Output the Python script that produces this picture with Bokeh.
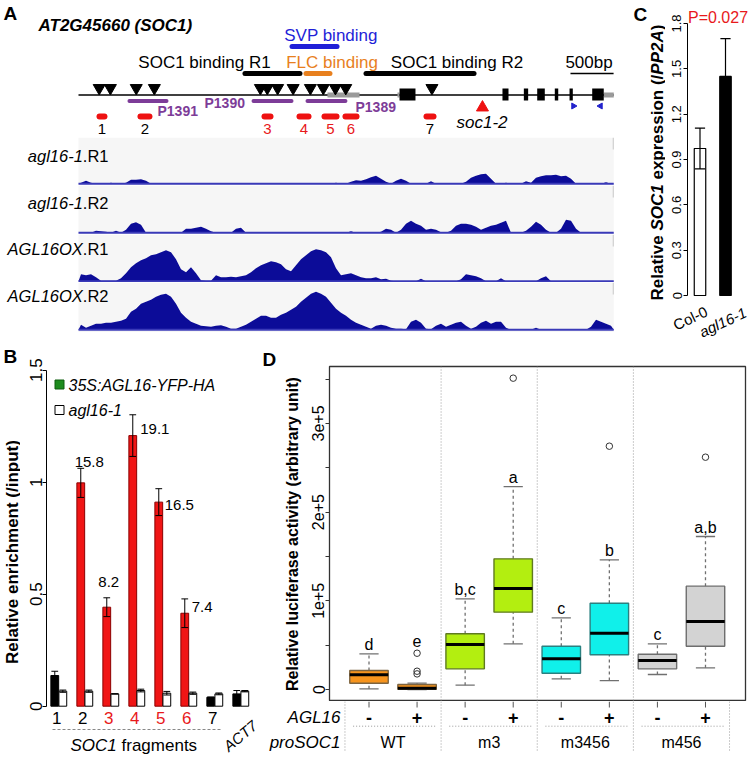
import math
import numpy as np
from bokeh.plotting import figure
from bokeh.layouts import column, row
from bokeh.models import Range1d, FixedTicker, CustomJSTickFormatter, Span
from bokeh.core.properties import value
from bokeh.embed import file_html
from bokeh.resources import INLINE

FONT = "Liberation Sans"

# ============================ DATA ============================
# ---- Panel A: SOC1 locus (positions in bp from the left end of the window)
CARG_POS = [240, 370, 670, 880, 2110, 2190, 2310, 2490, 2690, 2840, 2980, 3100, 4100]
GENE_END = 6209
EXON_START = [3724, 4918, 5166, 5321, 5525, 5696, 5959]
EXON_END = [3909, 4988, 5216, 5409, 5565, 5734, 6093]
UTR_START = [2888, 3700, 6093]
UTR_END = [3260, 3724, 6209]
PROMOTER_NAMES = ["P1391", "P1390", "P1389"]
PROMOTER_START = [568, 2007, 2633]
PROMOTER_END = [1044, 2494, 3120]
PRIMER_NAMES = ["1", "2", "3", "4", "5", "6", "7"]
PRIMER_START = [209, 684, 2123, 2529, 2819, 3062, 4002]
PRIMER_END = [336, 858, 2262, 2703, 3028, 3260, 4153]
PRIMER_RED = [False, False, True, True, True, True, False]
BINDING_NAMES = ["SVP binding", "SOC1 binding R1", "FLC binding", "SOC1 binding R2"]
BINDING_START = [2448, 1902, 2610, 3306]
BINDING_END = [3028, 2598, 2946, 4617]
BINDING_COLORS = ["#1f1fd8", "black", "#e8801e", "black"]
SOC1_2_POS = 4686
QPCR_PRIMER_POS = [5742, 6055]
SCALE_BAR = [5707, 6207]
TRACK_SAMPLE = ["agl16-1", "agl16-1", "AGL16OX", "AGL16OX"]
TRACK_REP = [".R1", ".R2", ".R1", ".R2"]
BIN_BP = 58
COV_AGL16_1_R1 = [1, 3, 1, 0, 0, 0, 1, 0, 0, 1,
                  4, 4, 4.5, 3, 0, 0, 0, 0, 0, 0,
                  0, 0, 0, 0, 0, 0, 0, 0, 0, 0,
                  0, 0, 0, 0, 0, 0, 0, 0, 0, 0,
                  0, 0, 0, 0, 0, 0, 0, 0, 0, 0,
                  0, 1, 0, 0, 2, 3.5, 3, 4.5, 6.5, 8,
                  5, 2, 0, 3, 5, 3, 0, 0, 0, 0,
                  2.5, 0, 0, 0, 0, 0, 0, 2, 6, 8,
                  9.5, 10, 5, 0, 0, 1, 0, 0, 0, 2.5,
                  1, 6, 7.5, 8.5, 8.5, 9, 7.5, 8, 5, 0,
                  0, 0, 0, 0, 0, 1.5, 0]
COV_AGL16_1_R2 = [0, 0, 0, 2, 1.5, 1, 0, 2, 0, 3,
                  9, 10.5, 8, 0, 0, 0, 0, 0, 0, 0,
                  0, 4, 4, 5, 6, 4, 1.5, 0, 0, 0,
                  0, 4, 5, 0, 0, 0, 0, 0, 0, 0,
                  0, 0, 0, 0, 0, 0, 0, 0, 0, 0,
                  0, 0, 0, 0, 1.5, 0, 0, 0, 0, 0,
                  1, 4, 3, 0, 3, 9, 12, 9, 7, 3,
                  4, 3, 0.5, 0, 2, 7, 9, 9, 8, 6,
                  3, 5, 7, 8, 10, 12, 0, 0, 0, 2,
                  6, 11, 8, 3, 0, 0, 4, 13, 12, 4,
                  0, 0, 0, 0, 0, 0, 0]
COV_AGL16OX_R1 = [7, 6, 7, 4, 0.5, 0.5, 0.5, 0.5, 3, 8,
                  14, 18, 21, 23, 26, 27, 29, 31, 29, 22,
                  12, 9, 14, 8, 1, 0.5, 0.5, 6, 4, 4,
                  4.5, 4, 5, 6, 9, 13, 16, 18, 20, 19,
                  17, 12, 10, 16, 22, 26, 30, 32, 31, 29,
                  24, 13, 6, 7, 8, 6, 4, 3, 3, 4,
                  2, 2.5, 0.5, 0, 0, 0, 0, 0, 2.5, 0,
                  0, 0, 0, 0, 0, 0, 2, 7, 6, 5,
                  3, 0, 0, 0, 3, 0, 0, 0, 0, 0,
                  0, 0, 3, 5, 0, 0, 0, 0, 0, 0,
                  0, 0, 0, 0, 0, 0, 0]
COV_AGL16OX_R2 = [5, 2, 4, 6, 6, 7, 7, 8, 9, 11,
                  18, 21, 26, 28, 30, 33, 35, 36, 33, 26,
                  17, 12, 8, 6, 4, 3.5, 3, 4, 4.5, 3,
                  1, 1, 3, 5, 8, 11, 14, 14, 12, 12,
                  15, 17, 20, 23, 28, 32, 36, 38, 36, 33,
                  27, 21, 17, 14, 10, 7, 5, 3, 1, 4,
                  5, 4, 2, 1, 1, 0.5, 8, 10, 7, 1,
                  0.5, 4, 6, 3, 5, 7, 8, 4, 1, 3,
                  7, 9, 6, 8, 8, 2, 0, 0, 0, 0,
                  0, 2, 0, 0, 0, 0, 0, 0, 0, 0,
                  0, 0, 3, 10, 8, 6, 4]

# ---- Panel B: ChIP-qPCR
B_FRAGMENTS = ["1", "2", "3", "4", "5", "6", "7", "ACT7"]
B_YFP = [0.137, 0.997, 0.442, 1.208, 0.911, 0.415, 0.040, 0.055]
B_YFP_SE = [0.019, 0.065, 0.042, 0.093, 0.060, 0.064, 0.0, 0.015]
B_AGL16_1 = [0.067, 0.067, 0.055, 0.070, 0.058, 0.058, 0.055, 0.067]
B_AGL16_1_SE = [0.005, 0.005, 0.0, 0.006, 0.008, 0.005, 0.004, 0.003]
B_BAR_RED = [False, True, True, True, True, True, False, False]
B_LABEL_RED = [False, False, True, True, True, True, False, False]
B_FOLD = ["", "15.8", "8.2", "19.1", "16.5", "7.4", "", ""]
B_YTICKS = [0, 0.5, 1, 1.5]

# ---- Panel C: qRT-PCR
C_GENOTYPES = ["Col-0", "agl16-1"]
C_EXPR = [0.973, 1.45]
C_SE = [0.135, 0.25]
C_PVALUE = "P=0.027"
C_YTICKS = [0, 0.3, 0.6, 0.9, 1.2, 1.5, 1.8]

# ---- Panel D: luciferase boxplots
D_AGL16 = ["-", "+", "-", "+", "-", "+", "-", "+"]
D_PROMOTERS = ["WT", "m3", "m3456", "m456"]
D_WHISK_LO = [800, 0, 4900, 51500, 12000, 10100, 16900, 24400]
D_Q1 = [7100, 200, 23300, 87200, 18400, 39100, 23300, 48800]
D_MEDIAN = [16500, 1500, 50700, 113900, 34600, 63500, 32700, 76700]
D_Q3 = [21400, 5600, 62800, 147300, 48800, 97300, 39800, 116500]
D_WHISK_HI = [40200, 7100, 102200, 228800, 80800, 146200, 51500, 172500]
D_OUTLIERS = [[], [40900, 20600, 17600], [], [351000], [], [274300], [], [261900]]
D_LETTERS = ["d", "e", "b,c", "a", "c", "b", "c", "a,b"]
D_YTICKS = [0, 50000, 100000, 150000, 200000, 250000, 300000, 350000]
D_FILL = ["#f7941d", "#f7941d", "#b3ee10", "#b3ee10", "#10f0ea", "#10f0ea", "#d3d3d3", "#d3d3d3"]
D_EDGE = ["#7d6440", "#7d6440", "#5f7a20", "#5f7a20", "#2a8080", "#2a8080", "#6e6e6e", "#6e6e6e"]


# ============================ HELPERS ============================
def base_fig(w, h, xr, yr, **kw):
    opts = dict(width=w, height=h, x_range=xr, y_range=yr, output_backend="svg",
                toolbar_location=None, min_border=0,
                x_axis_location=None, y_axis_location=None)
    opts.update(kw)
    p = figure(**opts)
    p.xgrid.visible = False
    p.ygrid.visible = False
    p.outline_line_color = None
    try:
        p.frame_align = False
    except Exception:
        pass
    return p


def txt(p, x, y, s, size="16px", style="normal", color="black", align="left",
        baseline="middle", angle=0.0, x_offset=0):
    if not isinstance(x, (list, tuple, np.ndarray)):
        x, y, s = [x], [y], [s]
    p.text(x=list(x), y=list(y), text=list(s), text_font=value(FONT), text_font_size=size,
           text_font_style=style, text_color=color, text_align=align,
           text_baseline=baseline, angle=angle, x_offset=x_offset)


def style_yaxis(ax, size, standoff, color="black"):
    ax.major_label_orientation = "vertical"
    ax.major_label_text_font = FONT
    ax.major_label_text_font_size = size
    ax.major_label_text_color = "black"
    ax.major_label_standoff = standoff
    ax.major_tick_out = 4
    ax.major_tick_in = 0
    ax.minor_tick_line_color = None
    ax.axis_line_color = color
    ax.major_tick_line_color = color


TOP_H = 340
BOT_H = 436

# ============================ PANEL A ============================
BPP = 11.6                      # bp per pixel of the locus drawing
A_W = 615


def bpx(rx):
    return (rx - 78.0) * BPP


xrA = Range1d(bpx(0), bpx(A_W))
pA = base_fig(A_W, 137, xrA, Range1d(137, 0))

txt(pA, bpx(3), 12.5, "A", size="19px", style="bold")
txt(pA, bpx(38), 25, "AT2G45660 (SOC1)", size="17px", style="bold italic")

bind_y = [46, 73, 73, 73]
ins = 2.5 * BPP
pA.segment(x0=[s + ins for s in BINDING_START], x1=[e - ins for e in BINDING_END],
           y0=bind_y, y1=bind_y, line_color=BINDING_COLORS, line_width=5, line_cap="round")
bind_lab_x = [bpx(330.5), bpx(204), bpx(331.5), bpx(456.5)]
bind_lab_y = [35, 62, 62, 62]
for nm, lx, ly, c in zip(BINDING_NAMES, bind_lab_x, bind_lab_y, BINDING_COLORS):
    txt(pA, lx, ly, nm, size="17px", color=c, align="center")

pA.segment(x0=[SCALE_BAR[0]], x1=[SCALE_BAR[1]], y0=[73], y1=[73], line_color="black", line_width=1.5)
txt(pA, (SCALE_BAR[0] + SCALE_BAR[1]) / 2 - 3 * BPP, 62,
    "%dbp" % (SCALE_BAR[1] - SCALE_BAR[0]), size="17px", align="center")

pA.segment(x0=[0], x1=[GENE_END], y0=[94.5], y1=[94.5], line_color="black", line_width=1.3)
pA.quad(left=UTR_START, right=UTR_END, bottom=[97] * len(UTR_START), top=[92] * len(UTR_START),
        fill_color="#9a9a9a", line_color=None)
pA.quad(left=EXON_START, right=EXON_END, bottom=[100] * len(EXON_START), top=[88] * len(EXON_START),
        fill_color="black", line_color=None)
pA.scatter(x=CARG_POS, y=[87.5] * len(CARG_POS), marker="inverted_triangle", size=12,
           fill_color="black", line_color="black")

ins = 2 * BPP
pA.segment(x0=[s + ins for s in PROMOTER_START], x1=[e - ins for e in PROMOTER_END],
           y0=[100.5] * 3, y1=[100.5] * 3, line_color="#7d3c98", line_width=4, line_cap="round")
for nm, lx, ly in zip(PROMOTER_NAMES, [bpx(157), bpx(204), bpx(355)], [110, 102, 106]):
    txt(pA, lx, ly, nm, size="14px", style="bold", color="#7d3c98")

ins = 3 * BPP
pA.segment(x0=[s + ins for s in PRIMER_START], x1=[e - ins for e in PRIMER_END],
           y0=[116] * 7, y1=[116] * 7, line_color="#ee1111", line_width=6, line_cap="round")
pA.text(x=[(s + e) / 2 for s, e in zip(PRIMER_START, PRIMER_END)], y=[128.5] * 7, text=PRIMER_NAMES,
        text_font=value(FONT), text_font_size="15px",
        text_color=["#e8191b" if r else "black" for r in PRIMER_RED],
        text_align="center", text_baseline="middle")

pA.scatter(x=[SOC1_2_POS], y=[107], marker="triangle", size=12, fill_color="#ee1111", line_color="#ee1111")
txt(pA, bpx(481.5), 121.5, "soc1-2", size="17px", style="italic", align="center")
pA.scatter(x=QPCR_PRIMER_POS, y=[105.5, 105.5], marker="triangle", size=6,
           angle=[-math.pi / 2, math.pi / 2], fill_color="#2222cc", line_color="#2222cc")

track_h = [48, 49, 48, 50]
track_base = [1.7, 1.7, 1.3, 2.7]
track_lab_top = [18, 17.7, 14.3, 13]
covs = [COV_AGL16_1_R1, COV_AGL16_1_R2, COV_AGL16OX_R1, COV_AGL16OX_R2]
tracks = []
REP_W = 1.556 * 16.5
for i in range(4):
    h, b = track_h[i], track_base[i]
    top = h - b
    p = base_fig(A_W, h, xrA, Range1d(-b, top))
    p.quad(left=[0], right=[GENE_END], bottom=[-b], top=[top], fill_color="#f6f6f6", line_color=None)
    cov = np.array(covs[i], dtype=float)
    xs = np.concatenate([[0], np.arange(len(cov)) * BIN_BP + BIN_BP / 2, [GENE_END]])
    ys = np.concatenate([[0], cov, [0]])
    p.varea(x=xs, y1=np.zeros_like(ys), y2=ys, fill_color="#0c0c98")
    p.segment(x0=[0], x1=[GENE_END], y0=[0], y1=[0], line_color="#3a3ab8", line_width=2)
    p.segment(x0=[GENE_END - 6], x1=[GENE_END - 6], y0=[top], y1=[top - 12], line_color="#c8c8c8", line_width=1)
    ly = top - track_lab_top[i]
    txt(p, bpx(108), ly, TRACK_REP[i], size="16.5px", align="right")
    txt(p, bpx(108), ly, TRACK_SAMPLE[i], size="16.5px", style="italic", align="right", x_offset=-REP_W)
    tracks.append(p)

# ============================ PANEL C ============================
C_L = 615            # left of panel C on the page
C_SPLIT = 665        # left of C chart figure (strip with titles to the left)
C_AXIS = 687
C_R = 750
C_MAIN_H = 300


def cx(rx):
    return 1 + (rx - 699.5) / 25.5


def cy(ry):
    return (295.0 - ry) / 151.1


stripC = base_fig(C_SPLIT - C_L, C_MAIN_H, Range1d(C_L, C_SPLIT), Range1d(C_MAIN_H, 0))
txt(stripC, 633, 13.5, "C", size="19px", style="bold")
pieces = [("Relative", "bold", 4.113), ("SOC1", "bold italic", 3.001), ("expression (/", "bold", 6.169),
          ("PP2A", "bold italic", 2.612), (")", "bold", 0.333)]
ystart = 300.0
for s, st, em in pieces:
    txt(stripC, 656.5, ystart, s, size="17px", style=st, align="left", angle=math.pi / 2)
    ystart -= em * 17

pC = base_fig(C_R - C_SPLIT, C_MAIN_H, Range1d(cx(C_AXIS), cx(C_R)), Range1d(cy(C_MAIN_H), cy(0)),
              y_axis_location="left", min_border_left=C_AXIS - C_SPLIT)
ya = pC.yaxis[0]
ya.bounds = (0, 1.8)
ya.ticker = FixedTicker(ticks=C_YTICKS)
ya.formatter = CustomJSTickFormatter(code="return tick == 0 ? '0' : tick.toFixed(1);")
style_yaxis(ya, "13px", 2)

cpos = [1, 2]
pC.vbar(x=cpos, width=0.45, bottom=0, top=C_EXPR, fill_color=["white", "black"], line_color="black", line_width=1.2)
lo = [v - e for v, e in zip(C_EXPR, C_SE)]
hi = [v + e for v, e in zip(C_EXPR, C_SE)]
pC.segment(x0=cpos, x1=cpos, y0=lo, y1=hi, line_color="black", line_width=1.2)
pC.segment(x0=[x - 0.2 for x in cpos], x1=[x + 0.2 for x in cpos], y0=hi, y1=hi, line_color="black", line_width=1.2)
pC.segment(x0=[x - 0.2 for x in cpos], x1=[x + 0.2 for x in cpos], y0=lo, y1=lo, line_color="black", line_width=1.2)
txt(pC, cx(687.5), cy(17), C_PVALUE, size="16px", color="#e8191b")

pCb = base_fig(C_R - C_L, TOP_H - C_MAIN_H, Range1d(cx(C_L), cx(C_R)), Range1d(TOP_H, C_MAIN_H))
ang = math.radians(25)
txt(pCb, cx(706), 310, C_GENOTYPES[0], size="15px", align="right", angle=ang)
txt(pCb, cx(745), 311, C_GENOTYPES[1], size="15px", style="italic", align="right", angle=ang)

# ============================ PANEL B ============================
B_SPLIT = 20
B_AXIS = 46
B_R = 260
B_TOP = TOP_H


def bx(rx):
    return 1 + (rx - 58.3) / 26.0


def by(ry):
    return (705.7 - ry) / 224.0


stripB = base_fig(B_SPLIT, BOT_H, Range1d(0, B_SPLIT), Range1d(B_TOP + BOT_H, B_TOP))
txt(stripB, 3, 355.5, "B", size="19px", style="bold")
txt(stripB, 11.5, 551.5, "Relative enrichment (/input)", size="17px", style="bold", align="center",
    angle=math.pi / 2)

pB = base_fig(B_R - B_SPLIT, BOT_H, Range1d(bx(B_AXIS), bx(B_R)), Range1d(by(B_TOP + BOT_H), by(B_TOP)),
              y_axis_location="left", min_border_left=B_AXIS - B_SPLIT)
ya = pB.yaxis[0]
ya.bounds = (0, 1.5)
ya.ticker = FixedTicker(ticks=B_YTICKS)
ya.formatter = CustomJSTickFormatter(code="return tick.toString();")
style_yaxis(ya, "17px", 0)

g = np.arange(1, len(B_FRAGMENTS) + 1)
bw = 0.3
xl = g - 0.155
xr_ = g + 0.155
pB.vbar(x=xl, width=bw, bottom=0, top=B_YFP,
        fill_color=["#f01515" if r else "black" for r in B_BAR_RED],
        line_color=["#8a0000" if r else "black" for r in B_BAR_RED], line_width=1)
pB.vbar(x=xr_, width=bw, bottom=0, top=B_AGL16_1, fill_color="white", line_color="black", line_width=1)
for xs_, vals, ses in [(xl, B_YFP, B_YFP_SE), (xr_, B_AGL16_1, B_AGL16_1_SE)]:
    lo = [v - e for v, e in zip(vals, ses)]
    hi = [v + e for v, e in zip(vals, ses)]
    pB.segment(x0=xs_, x1=xs_, y0=lo, y1=hi, line_color="black", line_width=1)
    pB.segment(x0=xs_ - 0.13, x1=xs_ + 0.13, y0=hi, y1=hi, line_color="black", line_width=1)
    pB.segment(x0=xs_ - 0.13, x1=xs_ + 0.13, y0=lo, y1=lo, line_color="black", line_width=1)

LBL_DX = [0, 8.5, 2, 7.5, 6, 7, 0, 0]
LBL_DY = [0, 6, 16, -14, -16, -8, 0, 0]
LBL_ALIGN = ["center", "center", "center", "left", "left", "left", "center", "center"]
for i, s in enumerate(B_FOLD):
    if not s:
        continue
    txt(pB, xl[i] + LBL_DX[i] / 26.0, B_YFP[i] + B_YFP_SE[i] + LBL_DY[i] / 224.0, s,
        size="15px", align=LBL_ALIGN[i])

pB.text(x=list(g[:7] - 0.08), y=[by(717)] * 7, text=B_FRAGMENTS[:7], text_font=value(FONT),
        text_font_size="17px", text_color=["#e8191b" if r else "black" for r in B_LABEL_RED[:7]],
        text_align="center", text_baseline="middle")
txt(pB, g[7] + 14 / 26.0, by(723), B_FRAGMENTS[7], size="15px", style="italic",
    align="right", angle=math.radians(40))
pB.segment(x0=[bx(52)], x1=[bx(220)], y0=[by(729)], y1=[by(729)], line_color="#888888",
           line_width=1.2, line_dash="3 2")
txt(pB, bx(70), by(745), "SOC1", size="17px", style="italic")
txt(pB, bx(70), by(745), "fragments", size="17px", x_offset=(2.723 + 0.278) * 17)

pB.scatter(x=[bx(59)], y=[by(384)], marker="square", size=9, fill_color="#1e8c1e", line_color="#0e5e0e")
pB.scatter(x=[bx(59)], y=[by(409.5)], marker="square", size=9, fill_color="white", line_color="black")
txt(pB, bx(68), by(385), "35S:AGL16-YFP-HA", size="16px", style="italic")
txt(pB, bx(68), by(410), "agl16-1", size="16px", style="italic")

# ============================ PANEL D ============================
D_L = 260
D_SPLIT = 302
D_AXIS = 329
D_FR = 745
D_R = 750
D_FT = 366
D_FB = 701


def dx(rx):
    return 1 + (rx - 368.5) / 48.07


def dy(ry):
    return (689.0 - ry) / (88.7 / 1e5)


stripD = base_fig(D_SPLIT - D_L, D_FB - B_TOP, Range1d(D_L, D_SPLIT), Range1d(D_FB, B_TOP))
txt(stripD, 262, 358.5, "D", size="19px", style="bold")
txt(stripD, 292, 533.5, "Relative luciferase activity (arbitrary unit)", size="16px", style="bold",
    align="center", angle=math.pi / 2)

pD = base_fig(D_R - D_SPLIT, D_FB - B_TOP, Range1d(dx(D_AXIS), dx(D_FR)), Range1d(dy(D_FB), dy(D_FT)),
              y_axis_location="left", min_border_left=D_AXIS - D_SPLIT, min_border_right=D_R - D_FR,
              min_border_top=D_FT - B_TOP)
pD.outline_line_color = "#333333"
pD.outline_line_width = 1.3
ya = pD.yaxis[0]
ya.ticker = FixedTicker(ticks=D_YTICKS)
ya.formatter = CustomJSTickFormatter(
    code="const m = {0: '0', 100000: '1e+5', 200000: '2e+5', 300000: '3e+5'}; return (tick in m) ? m[tick] : '';")
style_yaxis(ya, "16px", 1, color="#333333")

for loc in [2.5, 4.5, 6.5]:
    pD.add_layout(Span(location=loc, dimension="height", line_color="#999999", line_dash="1 2", line_width=1))

dpos = np.arange(1, 9)
pD.segment(x0=dpos, x1=dpos, y0=D_Q3, y1=D_WHISK_HI, line_color="#707070", line_width=1.3, line_dash="3 3")
pD.segment(x0=dpos, x1=dpos, y0=D_WHISK_LO, y1=D_Q1, line_color="#707070", line_width=1.3, line_dash="3 3")
pD.segment(x0=dpos - 0.2, x1=dpos + 0.2, y0=D_WHISK_HI, y1=D_WHISK_HI, line_color="#707070", line_width=1.3)
pD.segment(x0=dpos - 0.2, x1=dpos + 0.2, y0=D_WHISK_LO, y1=D_WHISK_LO, line_color="#707070", line_width=1.3)
pD.vbar(x=dpos, width=0.8, bottom=D_Q1, top=D_Q3, fill_color=D_FILL, line_color=D_EDGE, line_width=1.4)
pD.segment(x0=dpos - 0.4, x1=dpos + 0.4, y0=D_MEDIAN, y1=D_MEDIAN, line_color="black", line_width=3)
ox = [i + 1 for i, outs in enumerate(D_OUTLIERS) for _ in outs]
oy = [o for outs in D_OUTLIERS for o in outs]
pD.scatter(x=ox, y=oy, marker="circle", size=6.5, fill_color=None, line_color="#333333", line_width=1)
PX_D = 88.7 / 1e5
ly = []
for i in range(8):
    near = [o for o in D_OUTLIERS[i] if 0 < o - D_WHISK_HI[i] < 50000]
    if near:
        ly.append(max(near) + 12.5 / PX_D)
    else:
        ly.append(D_WHISK_HI[i] + 9 / PX_D)
txt(pD, list(dpos), ly, D_LETTERS, size="16px", align="center")

pDb = base_fig(D_R - D_L, B_TOP + BOT_H - D_FB, Range1d(dx(D_L), dx(D_R)), Range1d(B_TOP + BOT_H, D_FB))
pDb.segment(x0=dpos, x1=dpos, y0=[701] * 8, y1=[707] * 8, line_color="#555555", line_width=1)
txt(pDb, list(dpos), [717] * 8, D_AGL16, size="18px", style="bold", align="center")
pDb.segment(x0=[2 * k + 0.67 for k in range(4)], x1=[2 * k + 2.4 for k in range(4)], y0=[725.7] * 4,
            y1=[725.7] * 4, line_color="#999999", line_width=1, line_dash="1 2")
pDb.segment(x0=[0.5, 2.5, 4.5, 6.5, 8.5], x1=[0.5, 2.5, 4.5, 6.5, 8.5], y0=[701] * 5, y1=[752] * 5,
            line_color="#999999", line_width=1, line_dash="1 2")
txt(pDb, [2 * k + 1.5 for k in range(4)], [741.7] * 4, D_PROMOTERS, size="16px", align="center")
txt(pDb, dx(340), 717, "AGL16", size="17px", style="italic", align="right")
txt(pDb, dx(340), 741.7, "proSOC1", size="17px", style="italic", align="right")

# ============================ LAYOUT ============================
top = row(column(pA, *tracks), column(row(stripC, pC), pCb))
bottom = row(row(stripB, pB), column(row(stripD, pD), pDb))
layout = column(top, bottom)

open("out.html", "w").write(file_html(layout, INLINE))
